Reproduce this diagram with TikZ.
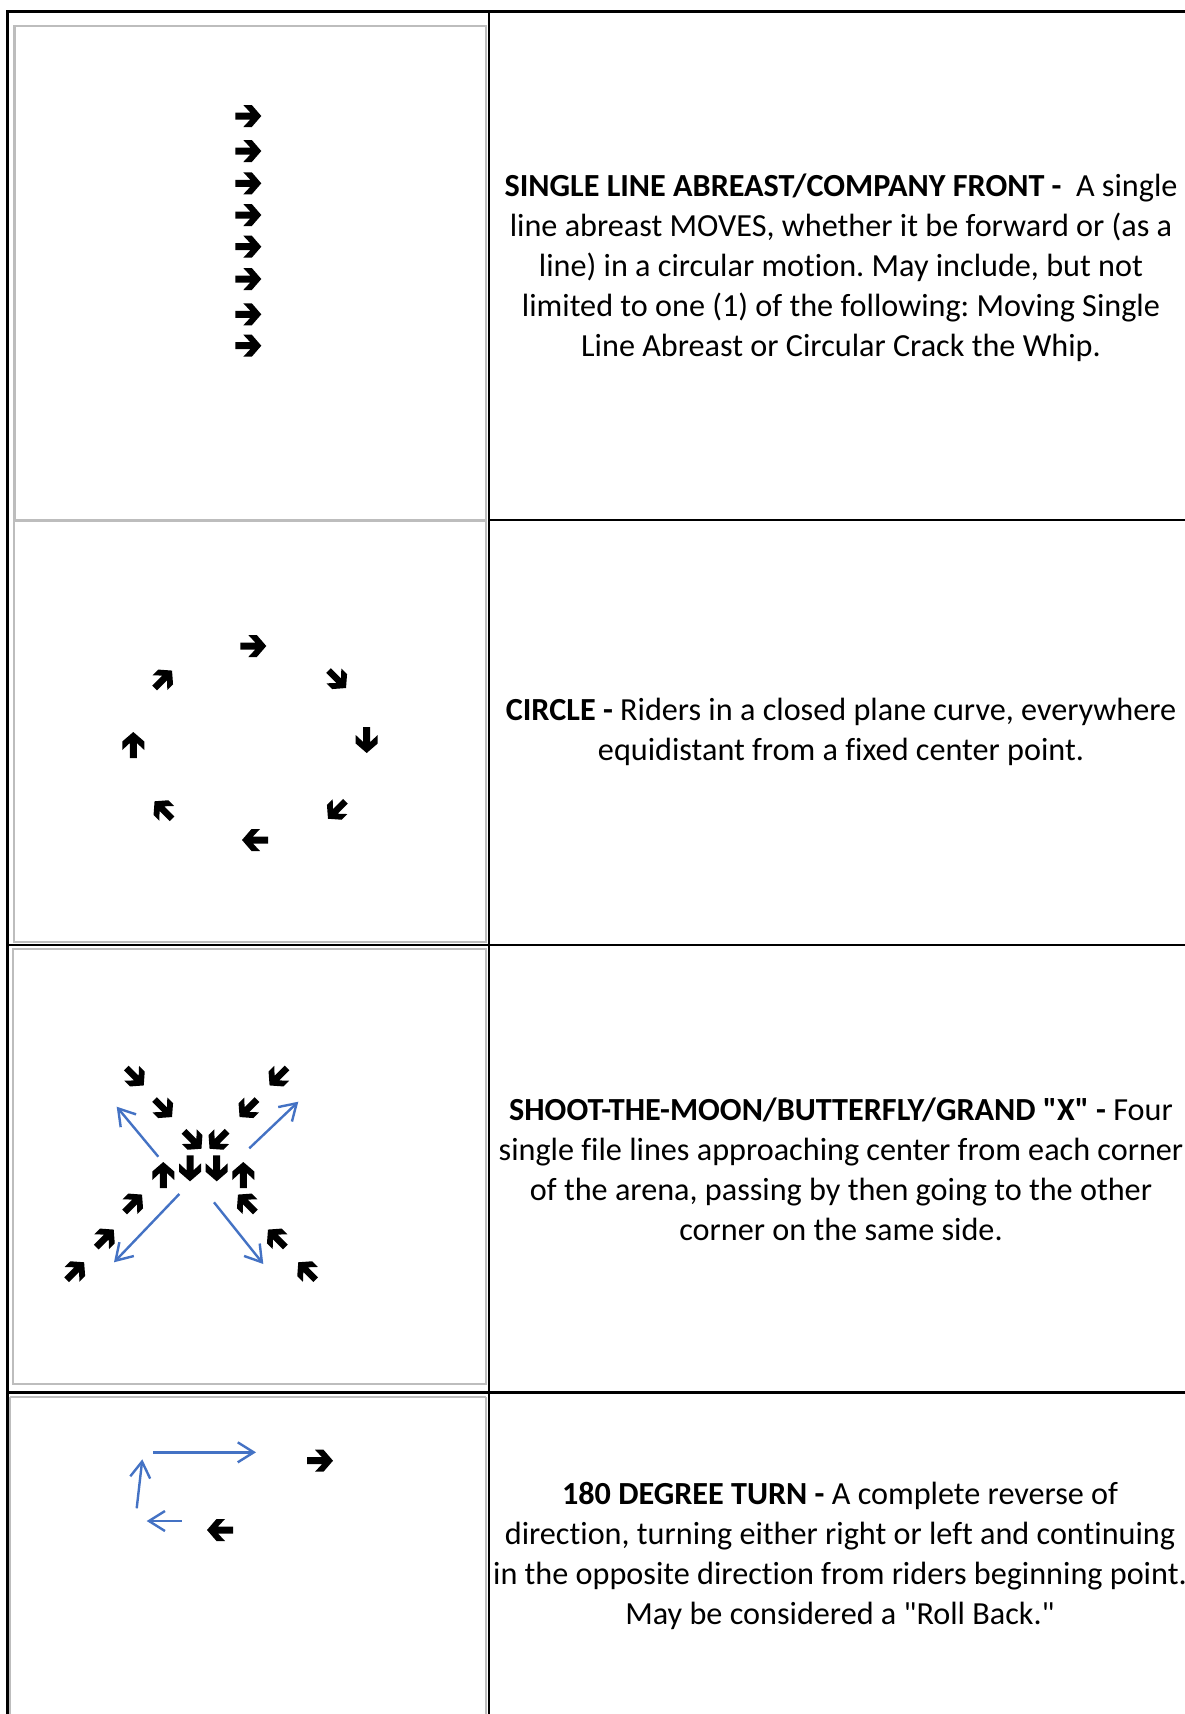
\documentclass[tikz,border=0pt]{standalone}
\usepackage{fontspec}
\setmainfont{Carlito}[Ligatures={TeXOff,CommonOff}]
\usetikzlibrary{arrows.meta}
\definecolor{blueln}{HTML}{4472C4}
\definecolor{grayln}{HTML}{BDBDBD}
\tikzset{
  blk/.pic={\fill[black] (13,0)--(3.5,11)--(-5,11)--(2,3.5)--(-13,3.5)--(-13,-3.5)--(2,-3.5)--(-5,-11)--(3.5,-11)--cycle;},
  grid/.style={line width=2.6pt, black},
  cellbox/.style={draw=grayln, line width=2.2pt},
  blueconn/.style={draw=blueln, line width=2.4pt, -{Straight Barb[length=16pt,width=20pt]}},
  desc/.style={align=center, font=\fontsize{32.2}{40}\selectfont\frenchspacing, inner sep=0pt}
}
\begin{document}
\begin{tikzpicture}[x=1pt,y=-1pt]
\useasboundingbox (0,0) rectangle (1185,1714);
\fill[white] (0,0) rectangle (1185,1714);
% gray cell boxes (left column)
\draw[cellbox] (14.5,26) rectangle (486,520.5);
\draw[cellbox] (14,520.5) rectangle (486,942);
\draw[cellbox] (13,949) rectangle (486,1384);
\draw[cellbox] (9.5,1397) -- (486,1397);
\draw[cellbox] (9.5,1397) -- (9.5,1714);
\draw[cellbox] (486,1397) -- (486,1714);
% black grid
\draw[grid] (7.5,10) -- (7.5,1714);
\draw[grid] (6.2,11.5) -- (1185,11.5);
\draw[grid] (489,10) -- (489,1714);
\draw[grid] (489,520) -- (1185,520);
\draw[grid] (6.2,945) -- (1185,945);
\draw[grid] (6.2,1392.5) -- (1185,1392.5);
% row 1: single line abreast
\foreach \yy in {116,151,183.3,215,246.7,279,314.3,345.7}
  \pic at (248.3,\yy) {blk};
% row 2: circle
\pic at (253.3,646) {blk};
\pic[rotate=-45,scale=0.95] at (337.3,679.3) {blk};
\pic[rotate=-90] at (366.7,740) {blk};
\pic[rotate=-135,scale=0.95] at (336.7,810) {blk};
\pic[rotate=180] at (255,840) {blk};
\pic[rotate=135,scale=0.95] at (163.3,810) {blk};
\pic[rotate=90] at (133.3,745) {blk};
\pic[rotate=45,scale=0.95] at (163.3,679.3) {blk};
% row 3: shoot the moon
\pic[rotate=-45,scale=0.95] at (135,1076.7) {blk};
\pic[rotate=-45,scale=0.95] at (163.3,1108.3) {blk};
\pic[rotate=-45,scale=0.95] at (192.7,1140) {blk};
\pic[rotate=-135,scale=0.95] at (278.3,1076.7) {blk};
\pic[rotate=-135,scale=0.95] at (248.3,1108.3) {blk};
\pic[rotate=-135,scale=0.95] at (218.3,1140) {blk};
\pic[rotate=90] at (163.3,1175) {blk};
\pic[rotate=-90] at (190,1168.3) {blk};
\pic[rotate=-90] at (216.7,1168.3) {blk};
\pic[rotate=90] at (243.3,1175) {blk};
\pic[rotate=45,scale=0.95] at (133.3,1203.3) {blk};
\pic[rotate=45,scale=0.95] at (105,1238.3) {blk};
\pic[rotate=45,scale=0.95] at (75.4,1271) {blk};
\pic[rotate=135,scale=0.95] at (246.7,1203.3) {blk};
\pic[rotate=135,scale=0.95] at (276.7,1238.3) {blk};
\pic[rotate=135,scale=0.95] at (307,1271) {blk};
\coordinate (nwA) at (158.3,1156.7);
\coordinate (nwB) at (116.7,1106.7);
\coordinate (neA) at (249.3,1148.3);
\coordinate (neB) at (298.3,1101.7);
\coordinate (swA) at (179.3,1194);
\coordinate (swB) at (114,1262.3);
\coordinate (seA) at (214,1202.3);
\coordinate (seB) at (263.3,1264);
\draw[blueconn] (nwA) -- (nwB);
\draw[blueconn] (neA) -- (neB);
\draw[blueconn] (swA) -- (swB);
\draw[blueconn] (seA) -- (seB);
% row 4: 180 degree turn
\coordinate (tA) at (153.3,1452.3);
\coordinate (tB) at (256,1452.3);
\coordinate (uA) at (136.7,1508.3);
\coordinate (uB) at (142.3,1459.3);
\coordinate (lA) at (181.7,1521);
\coordinate (lB) at (146.7,1521);
\draw[blueconn] (tA) -- (tB);
\draw[blueconn] (uA) -- (uB);
\draw[blueconn] (lA) -- (lB);
\pic at (320,1460.7) {blk};
\pic[rotate=180] at (220,1530) {blk};
% descriptions
\node[desc] (t1) at (841,267.5) {\textbf{SINGLE LINE ABREAST/COMPANY FRONT -}\ \ A single\\
line abreast MOVES, whether it be forward or (as a\\
line) in a circular motion. May include, but not\\
limited to one (1) of the following: Moving Single\\
Line Abreast or Circular Crack the Whip.};
\node[desc] (t2) at (841,732) {\textbf{CIRCLE -} Riders in a closed plane curve, everywhere\\
equidistant from a fixed center point.};
\node[desc] (t3) at (841,1169.5) {\textbf{SHOOT-THE-MOON/BUTTERFLY/GRAND "X" -} Four\\
single file lines approaching center from each corner\\
of the arena, passing by then going to the other\\
corner on the same side.};
\node[desc] (t4) at (840,1556) {\textbf{180 DEGREE TURN -} A complete reverse of\\
direction, turning either right or left and continuing\\
in the opposite direction from riders beginning point.\\
May be considered a "Roll Back."};
\end{tikzpicture}
\end{document}
